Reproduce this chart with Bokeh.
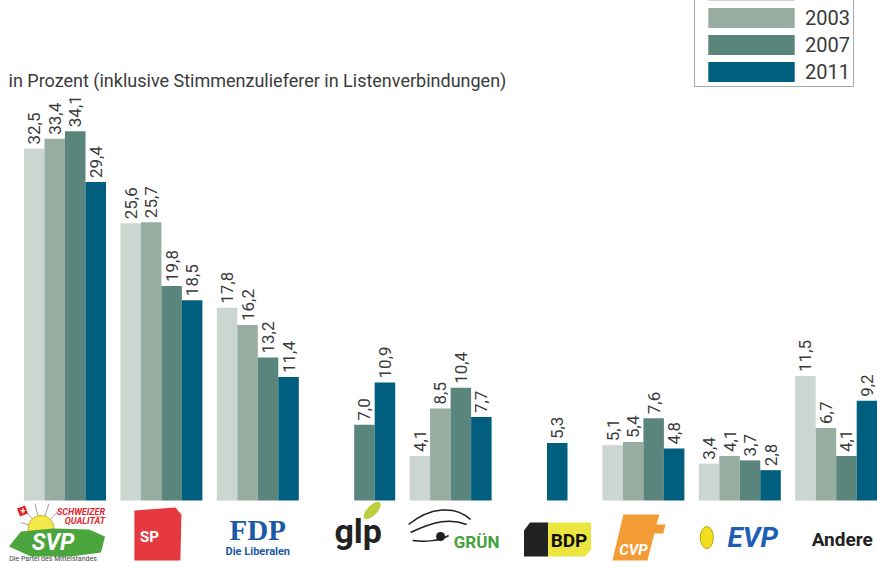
import numpy as np
from bokeh.plotting import figure
from bokeh.models import ColumnDataSource, Legend, LegendItem, Range1d, Label
from bokeh.core.properties import value
from bokeh.embed import file_html
from bokeh.resources import INLINE

# ---------------- data ----------------
parties = ["SVP", "SP", "FDP", "glp", "GRÜN", "BDP", "CVP", "EVP", "Andere"]
years = ["1999", "2003", "2007", "2011"]
v1999 = [32.5, 25.6, 17.8, None, 4.1, None, 5.1, 3.4, 11.5]
v2003 = [33.4, 25.7, 16.2, None, 8.5, None, 5.4, 4.1, 6.7]
v2007 = [34.1, 19.8, 13.2, 7.0, 10.4, None, 7.6, 3.7, 4.1]
v2011 = [29.4, 18.5, 11.4, 10.9, 7.7, 5.3, 4.8, 2.8, 9.2]
title_text = "in Prozent (inklusive Stimmenzulieferer in Listenverbindungen)"

series = [v1999, v2003, v2007, v2011]
colors = ["#cbd6d1", "#98ada1", "#5a857d", "#005f7e"]

# ---------------- layout ----------------
W, H = 877, 562
PXX = 96.4          # pixels per group
X0 = 64.5           # pixel position of the first group centre
PXY = 10.83         # pixels per percent
BASE = 500          # baseline, pixels from top
BW = 20.5 / PXX     # bar width in data units

FONT = "Roboto"
TXT = "#3a3a3a"

p = figure(width=W, height=H, output_backend="svg", toolbar_location=None,
           x_range=Range1d(-X0 / PXX, (W - X0) / PXX),
           y_range=Range1d(-(H - BASE) / PXY, BASE / PXY),
           x_axis_location=None, y_axis_location=None,
           min_border=0, min_border_left=0, min_border_right=0,
           min_border_top=0, min_border_bottom=0)
p.outline_line_color = None
p.xgrid.visible = False
p.ygrid.visible = False
p.background_fill_color = "white"
p.border_fill_color = "white"

# slot placement: full groups use one slot per year, incomplete groups
# start at the centre slot
slots = {}
for i in range(len(parties)):
    present = [k for k in range(4) if series[k][i] is not None]
    start = 0 if len(present) == 4 else min(2, 4 - len(present))
    for j, k in enumerate(present):
        slots[(i, k)] = start + j

renderers = []
for k, (yr, vals, col) in enumerate(zip(years, series, colors)):
    xs, tops, labels = [], [], []
    for i, v in enumerate(vals):
        if v is None:
            continue
        xs.append(i + (slots[(i, k)] - 1.5) * BW)
        tops.append(v)
        labels.append(f"{v:.1f}".replace(".", ","))
    src = ColumnDataSource(dict(x=xs, top=tops, label=labels))
    r = p.vbar(x="x", top="top", bottom=0, width=BW, source=src,
               fill_color=col, line_color=None)
    renderers.append(r)
    p.text(x="x", y="top", text="label", source=src, angle=np.pi / 2,
           text_align="left", text_baseline="middle", y_offset=-4,
           text_font=value(FONT), text_font_size="17px", text_color=TXT)

# the top entry (1999) lies above the picture's edge in the reference,
# only a sliver of its swatch is visible
legend_labels = [" "] + years[1:]
legend = Legend(items=[LegendItem(label=lb, renderers=[r]) for lb, r in zip(legend_labels, renderers)],
                location=(694, H - 87), orientation="vertical",
                glyph_width=108, glyph_height=25, label_standoff=0,
                label_text_font=FONT, label_text_font_size="20px",
                label_text_color=TXT, label_height=20, label_width=46,
                spacing=2, padding=2, margin=0,
                border_line_color="#555555", border_line_width=1,
                background_fill_color="white", background_fill_alpha=1)
p.add_layout(legend)

p.add_layout(Label(x=8, y=H - 80, x_units="screen", y_units="screen",
                   text=title_text, text_font=FONT, text_font_size="18px",
                   text_color=TXT, text_baseline="alphabetic"))

# ---------------- party logos (drawn below the baseline) ----------------
def X(i, dx):
    return i + dx / PXX


def Y(py):
    return (BASE - py) / PXY


def txt(i, dx, py, s, size, color, font=FONT, style="bold", align="center"):
    p.text(x=[X(i, dx)], y=[Y(py)], text=[s], text_align=align,
           text_baseline="middle", text_font=value(font),
           text_font_size=f"{size}px", text_font_style=style, text_color=color)


def patch(i, pts, color):
    p.patch(x=[X(i, a) for a, b in pts], y=[Y(b) for a, b in pts],
            fill_color=color, line_color=None)


# SVP
i = parties.index("SVP")
for a, b in [(-44, 522), (-40, 510), (-30, 503), (-16, 503), (-6, 510)]:
    p.segment(x0=[X(i, -24)], y0=[Y(528)], x1=[X(i, a)], y1=[Y(b)],
              line_color="#a0a0a0", line_width=1)
p.ellipse(x=[X(i, -24)], y=[Y(528)], width=26, height=26, width_units="screen",
          height_units="screen", fill_color="#f4e84a", line_color="#c9b92c")
patch(i, [(-48, 508), (-40, 505), (-37, 513), (-45, 516)], "#e3262c")
txt(i, -42, 510, "+", 9, "white")
patch(i, [(-56, 546), (-44, 531), (-12, 528), (24, 529), (40, 536), (36, 552),
          (6, 556), (-34, 556)], "#4aa63c")
txt(i, -12, 542, "SVP", 23, "white", style="bold italic")
txt(i, 16, 511, "SCHWEIZER", 9, "#e3262c", style="bold italic")
txt(i, 20, 520, "QUALITÄT", 9, "#e3262c", style="bold italic")
txt(i, -12, 558, "Die Partei des Mittelstandes", 7, "#444444", style="normal")

# SP
i = parties.index("SP")
patch(i, [(-27, 510), (14, 507), (20, 514), (19, 560), (-27, 560)], "#e5393f")
txt(i, -12, 536, "SP", 15, "white")

# FDP
i = parties.index("FDP")
txt(i, 0, 529, "FDP", 29, "#1b5aa6", font="Liberation Serif")
txt(i, 0, 551, "Die Liberalen", 11, "#1b5aa6")

# glp
i = parties.index("glp")
p.ellipse(x=[X(i, 18)], y=[Y(510)], width=22, height=10, angle=0.8,
          width_units="screen", height_units="screen",
          fill_color="#bcd03f", line_color=None)
txt(i, 4, 530, "glp", 34, "#222222")

# GRÜN
i = parties.index("GRÜN")
for (a0, b0, a1, b1, c0x, c0y, c1x, c1y) in [
        (-42, 524, 20, 519, -20, 506, 5, 505),
        (-40, 532, 16, 524, -15, 520, 0, 518),
        (-38, 540, -2, 535, -25, 542, -10, 540)]:
    p.bezier(x0=[X(i, a0)], y0=[Y(b0)], x1=[X(i, a1)], y1=[Y(b1)],
             cx0=[X(i, c0x)], cy0=[Y(c0y)], cx1=[X(i, c1x)], cy1=[Y(c1y)],
             line_color="#1e1e1e", line_width=1.5)
p.ellipse(x=[X(i, -10)], y=[Y(536)], width=9, height=9, width_units="screen",
          height_units="screen", fill_color="#1e1e1e", line_color=None)
txt(i, 26, 541, "GRÜN", 17, "#3fa33a")

# BDP
i = parties.index("BDP")
patch(i, [(-23, 530), (-17, 522), (1, 522), (1, 556), (-23, 556)], "#222222")
patch(i, [(1, 522), (44, 522), (44, 549), (38, 556), (1, 556)], "#ede53f")
txt(i, 22, 540, "BDP", 19, "#111111")

# CVP
i = parties.index("CVP")
patch(i, [(-20, 514), (16, 514), (13, 524), (22, 524), (20, 533), (11, 533),
          (4, 560), (-31, 560)], "#f39c36")
txt(i, -10, 549, "CVP", 15, "white", style="bold italic")

# EVP
i = parties.index("EVP")
p.ellipse(x=[X(i, -33)], y=[Y(537)], width=13, height=22, width_units="screen",
          height_units="screen", fill_color="#f3de1e", line_color="#b8a414")
txt(i, 13, 537, "EVP", 28, "#1d5fb6", style="bold italic")

# Andere
i = parties.index("Andere")
txt(i, 6, 539, "Andere", 19, "#222222")

open("out.html", "w").write(file_html(p, INLINE))
